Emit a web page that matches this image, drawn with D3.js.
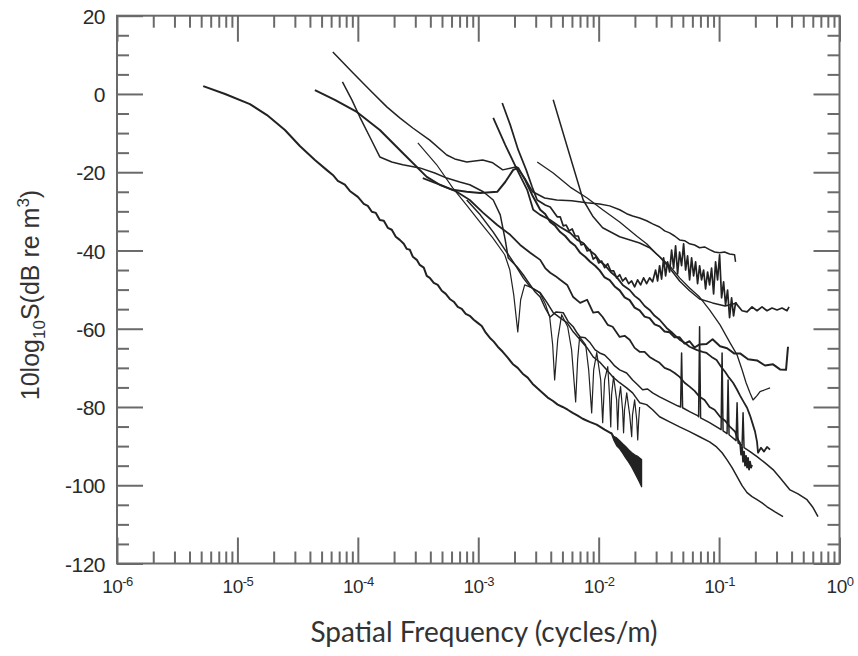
<!DOCTYPE html>
<html><head><meta charset="utf-8">
<script src="https://cdn.jsdelivr.net/npm/d3@7"></script>
<style>
html,body{margin:0;padding:0;background:#fff;}
svg{display:block;}
</style></head><body>
<svg id="chart" width="858" height="656"></svg>
<script>
// Axis ticks
const xMajor = [1e-6, 1e-5, 1e-4, 1e-3, 1e-2, 1e-1, 1];
const xExponent = ["-6", "-5", "-4", "-3", "-2", "-1", "0"];
const yMajor = [20, 0, -20, -40, -60, -80, -100, -120];

// Spectra: [spatial frequency (cycles/m), 10log10 S (dB re m^3)]
const profileA = [[5.2e-6,2.0],[7.9e-6,0.0],[1.27e-5,-2.6],[1.76e-5,-5.4],[2.48e-5,-9.2],[3.3e-5,-13.3],[4.4e-5,-16.9],[5.5e-5,-19.4],[6.2e-5,-20.7],[6.82e-5,-22.2],[7.8e-5,-23.2],[8.58e-5,-24.8],[1.0e-4,-26.3],[1.121e-4,-28.1],[1.21e-4,-28.6],[1.307e-4,-30.1],[1.411e-4,-30.4],[1.523e-4,-32.2],[1.643e-4,-32.4],[1.774e-4,-34.2],[1.914e-4,-34.7],[2.066e-4,-36.5],[2.23e-4,-37.3],[2.407e-4,-38.3],[2.549e-4,-39.6],[2.70e-4,-39.8],[2.86e-4,-41.6],[3.087e-4,-42.4],[3.269e-4,-43.7],[3.528e-4,-44.4],[3.736e-4,-46.5],[3.957e-4,-47.0],[4.272e-4,-48.3],[4.612e-4,-48.8],[4.977e-4,-50.3],[5.373e-4,-51.1],[5.80e-4,-52.4],[6.26e-4,-53.1],[6.76e-4,-54.4],[7.294e-4,-54.9],[7.873e-4,-56.2],[8.498e-4,-56.7],[9.173e-4,-57.7],[9.9e-4,-58.5],[1.069e-3,-59.3],[1.154e-3,-61.0],[1.246e-3,-62.3],[1.345e-3,-63.3],[1.452e-3,-64.6],[1.597e-3,-65.9],[1.757e-3,-67.4],[1.932e-3,-69.0],[2.126e-3,-70.0],[2.339e-3,-71.5],[2.574e-3,-72.5],[2.832e-3,-74.1],[3.117e-3,-75.3],[3.429e-3,-76.4],[3.773e-3,-77.6],[4.152e-3,-78.4],[4.568e-3,-79.4],[5.025e-3,-80.0],[5.53e-3,-80.7],[6.084e-3,-81.5],[6.694e-3,-82.2],[7.366e-3,-83.0],[8.417e-3,-83.8],[9.62e-3,-84.5],[1.121e-2,-85.8],[1.282e-2,-86.8]];
// rapidly oscillating tail of the same record: [frequency, upper, lower]
const profileAtail = [[1.282e-2,-86.6,-87.0],[1.332e-2,-87.5,-88.4],[1.411e-2,-87.9,-89.9],[1.494e-2,-88.6,-90.7],[1.582e-2,-89.4,-91.8],[1.675e-2,-90.1,-93.0],[1.774e-2,-90.9,-94.1],[1.878e-2,-91.6,-95.3],[1.989e-2,-92.2,-96.8],[2.106e-2,-92.6,-98.3],[2.188e-2,-93.0,-99.3],[2.273e-2,-93.4,-100.4]];

const profileB = [[3.15e-4,-12.5],[4.52e-4,-18.1],[6.14e-4,-24.0],[8.0e-4,-28.4],[1.03e-3,-32.7],[1.32e-3,-36.8],[1.66e-3,-41.1],[1.83e-3,-45.0],[1.97e-3,-51.3],[2.13e-3,-60.8],[2.25e-3,-52.6],[2.43e-3,-48.8],[2.78e-3,-49.5],[3.24e-3,-50.8],[3.63e-3,-53.9],[3.92e-3,-57.0],[4.15e-3,-64.1],[4.31e-3,-73.1],[4.57e-3,-62.8],[4.93e-3,-56.4],[5.53e-3,-59.5],[5.96e-3,-65.4],[6.44e-3,-78.7],[6.69e-3,-67.9],[6.95e-3,-62.1],[7.8e-3,-64.1],[8.26e-3,-70.5],[8.75e-3,-81.5],[9.09e-3,-70.5],[9.64e-3,-66.1],[1.04e-2,-73.1],[1.08e-2,-84.0],[1.12e-2,-73.1],[1.19e-2,-69.7],[1.23e-2,-76.9],[1.26e-2,-85.1],[1.28e-2,-76.9],[1.33e-2,-72.2],[1.41e-2,-78.2],[1.44e-2,-85.8],[1.47e-2,-78.2],[1.52e-2,-74.8],[1.58e-2,-80.7],[1.61e-2,-86.6],[1.64e-2,-80.7],[1.71e-2,-76.4],[1.81e-2,-82.0],[1.88e-2,-87.6],[1.91e-2,-82.0],[1.99e-2,-78.2],[2.07e-2,-83.3],[2.11e-2,-88.4],[2.15e-2,-83.3],[2.19e-2,-80.0]];

const profileC = [[6.2e-5,10.7],[9.09e-5,5.4],[1.258e-4,1.0],[1.74e-4,-3.3],[2.23e-4,-6.1],[2.86e-4,-8.7],[3.957e-4,-11.8],[5.476e-4,-15.6],[6.381e-4,-16.6],[8.025e-4,-17.4],[1.09e-3,-16.9],[1.32e-3,-17.6],[1.597e-3,-19.4],[2.086e-3,-18.6],[2.43e-3,-21.5],[2.832e-3,-25.0],[3.56e-3,-26.6],[4.48e-3,-27.1],[5.97e-3,-27.3],[7.95e-3,-27.8],[1.019e-2,-28.1],[1.234e-2,-28.6],[1.494e-2,-29.6],[1.707e-2,-30.6],[1.914e-2,-31.2],[2.188e-2,-31.7],[2.501e-2,-32.4],[2.805e-2,-33.2],[3.207e-2,-34.0],[3.528e-2,-35.0],[3.882e-2,-35.5],[4.272e-2,-36.3],[4.70e-2,-37.3],[5.171e-2,-37.5],[5.69e-2,-38.3],[6.26e-2,-38.6],[6.888e-2,-39.3],[7.578e-2,-39.1],[8.337e-2,-39.8],[9.173e-2,-40.4],[1.01e-1,-40.6],[1.11e-1,-40.4],[1.222e-1,-40.9],[1.345e-1,-41.1],[1.37e-1,-42.9]];

const profileD = [[4.40e-5,1.0],[6.44e-5,-1.5],[9.81e-5,-4.6],[1.523e-4,-9.2],[2.362e-4,-15.1],[3.736e-4,-21.2],[4.791e-4,-23.2],[6.144e-4,-24.5],[8.025e-4,-25.0],[1.039e-3,-25.3],[1.438e-3,-25.0],[1.675e-3,-22.5],[1.951e-3,-19.4],[2.147e-3,-18.9],[2.454e-3,-22.0],[2.805e-3,-25.8],[3.269e-3,-29.6],[3.596e-3,-30.7],[3.957e-3,-32.7],[4.354e-3,-33.7],[4.791e-3,-35.3],[5.271e-3,-36.3],[5.80e-3,-37.8],[6.381e-3,-38.8],[7.021e-3,-40.6],[7.724e-3,-41.6],[8.498e-3,-42.9],[9.35e-3,-43.9],[1.019e-2,-45.1],[1.121e-2,-46.9],[1.234e-2,-47.6],[1.358e-2,-49.2],[1.494e-2,-50.2],[1.643e-2,-52.0],[1.808e-2,-52.7],[1.989e-2,-54.6],[2.188e-2,-55.3],[2.407e-2,-56.9],[2.649e-2,-57.3],[2.915e-2,-58.9],[3.207e-2,-59.4],[3.528e-2,-60.7],[3.882e-2,-60.9],[4.272e-2,-62.2],[4.70e-2,-62.2],[5.171e-2,-63.8],[5.69e-2,-63.2],[6.26e-2,-64.8],[6.888e-2,-64.0],[7.873e-2,-63.9],[8.829e-2,-62.7],[1.019e-1,-64.5],[1.165e-1,-65.0],[1.332e-1,-66.3],[1.494e-1,-66.3],[1.74e-1,-67.8],[2.066e-1,-68.1],[2.407e-1,-69.4],[2.805e-1,-69.1],[3.207e-1,-70.4],[3.596e-1,-70.5],[3.736e-1,-64.6]];

const profileE = [[7.45e-5,3.1],[8.92e-5,-1.5],[1.039e-4,-5.9],[1.258e-4,-11.0],[1.523e-4,-16.1],[1.914e-4,-17.4],[2.362e-4,-18.1],[3.269e-4,-18.9],[4.354e-4,-20.2],[5.476e-4,-21.5],[7.021e-4,-22.5],[8.498e-4,-23.2],[1.10e-3,-25.0],[1.332e-3,-27.1],[1.523e-3,-30.9],[1.675e-3,-37.3],[1.774e-3,-41.9],[2.106e-3,-44.2],[2.362e-3,-46.2],[2.70e-3,-48.8],[2.971e-3,-50.6],[3.269e-3,-51.9],[3.596e-3,-54.7],[3.957e-3,-57.0],[4.438e-3,-55.7],[5.075e-3,-55.9],[5.584e-3,-58.2],[6.144e-3,-59.5],[6.629e-3,-61.1],[7.021e-3,-62.1],[7.724e-3,-62.3],[8.498e-3,-63.6],[9.35e-3,-65.4],[1.019e-2,-66.2],[1.121e-2,-66.7],[1.234e-2,-68.0],[1.358e-2,-69.5],[1.494e-2,-70.5],[1.707e-2,-71.3],[1.914e-2,-73.1],[2.106e-2,-74.3],[2.317e-2,-75.6],[2.549e-2,-75.4],[2.805e-2,-76.4],[3.207e-2,-77.4],[3.882e-2,-78.7],[4.524e-2,-79.7],[4.791e-2,-80.0],[4.883e-2,-66.2],[4.977e-2,-80.2],[5.69e-2,-81.2],[6.629e-2,-82.2],[6.76e-2,-82.5],[6.888e-2,-59.5],[7.021e-2,-82.8],[8.337e-2,-84.0],[1.039e-1,-85.8],[1.059e-1,-66.2],[1.079e-1,-86.1],[1.165e-1,-86.8],[1.188e-1,-73.1],[1.21e-1,-87.1],[1.384e-1,-88.6],[1.411e-1,-78.9],[1.438e-1,-89.2],[1.552e-1,-89.9],[1.582e-1,-81.5],[1.612e-1,-90.4],[1.808e-1,-91.4],[2.066e-1,-92.7],[2.407e-1,-94.3],[2.805e-1,-96.0],[3.207e-1,-98.1],[3.882e-1,-101.2],[4.524e-1,-102.2],[5.373e-1,-103.7],[6.025e-1,-105.7],[6.629e-1,-108.0]];

const profileF = [[1.582e-3,-2.3],[1.843e-3,-7.9],[2.147e-3,-14.3],[2.501e-3,-19.4],[2.805e-3,-23.8],[3.087e-3,-27.1],[3.596e-3,-28.4],[3.957e-3,-28.9],[4.524e-3,-31.4],[4.791e-3,-31.4],[5.075e-3,-33.7],[5.373e-3,-33.5],[5.69e-3,-35.0],[6.025e-3,-34.5],[6.381e-3,-36.3],[6.76e-3,-36.3],[7.156e-3,-38.6],[7.578e-3,-38.3],[8.025e-3,-40.1],[8.498e-3,-39.8],[9.005e-3,-42.2],[9.53e-3,-41.6],[1.0e-2,-43.2],[1.059e-2,-42.7],[1.121e-2,-44.4],[1.188e-2,-43.4],[1.258e-2,-45.2],[1.332e-2,-45.2],[1.411e-2,-47.0],[1.494e-2,-46.2],[1.582e-2,-47.8],[1.675e-2,-47.0],[1.774e-2,-48.5],[1.878e-2,-47.8],[1.989e-2,-49.3],[2.106e-2,-47.5],[2.23e-2,-48.8],[2.362e-2,-47.0],[2.501e-2,-48.5],[2.649e-2,-47.0],[2.805e-2,-48.0],[2.971e-2,-45.0],[3.087e-2,-47.8],[3.207e-2,-43.9],[3.332e-2,-47.3],[3.462e-2,-41.9],[3.596e-2,-46.5],[3.736e-2,-42.9],[3.882e-2,-45.5],[4.033e-2,-39.9],[4.192e-2,-44.5],[4.354e-2,-38.8],[4.524e-2,-46.0],[4.70e-2,-40.4],[4.883e-2,-43.9],[5.075e-2,-38.3],[5.271e-2,-45.0],[5.476e-2,-41.4],[5.69e-2,-47.5],[5.911e-2,-41.9],[6.144e-2,-46.5],[6.381e-2,-42.9],[6.629e-2,-48.5],[6.888e-2,-43.9],[7.156e-2,-47.5],[7.438e-2,-45.0],[7.724e-2,-49.8],[8.025e-2,-45.5],[8.337e-2,-48.8],[8.662e-2,-44.5],[9.005e-2,-51.1],[9.35e-2,-42.9],[9.714e-2,-47.5],[1.01e-1,-41.1],[1.049e-1,-52.1],[1.09e-1,-48.0],[1.132e-1,-53.9],[1.176e-1,-50.1],[1.222e-1,-57.2],[1.27e-1,-52.1],[1.319e-1,-56.7],[1.37e-1,-53.4],[1.552e-1,-55.4],[1.707e-1,-55.7],[1.878e-1,-54.4],[2.066e-1,-55.4],[2.273e-1,-54.4],[2.501e-1,-55.4],[2.752e-1,-54.7],[3.028e-1,-55.2],[3.332e-1,-54.7],[3.666e-1,-55.4],[3.81e-1,-54.4]];

const profileG = [[1.332e-3,-6.1],[1.675e-3,-13.0],[2.106e-3,-19.4],[2.549e-3,-24.5],[2.86e-3,-29.6],[3.269e-3,-30.9],[3.957e-3,-32.2],[4.791e-3,-34.0],[5.80e-3,-35.5],[6.629e-3,-37.3],[7.438e-3,-38.1],[8.498e-3,-40.1],[9.35e-3,-41.1],[1.019e-2,-42.7],[1.121e-2,-43.7],[1.258e-2,-45.5],[1.411e-2,-46.8],[1.582e-2,-48.8],[1.808e-2,-50.1],[1.989e-2,-51.6],[2.188e-2,-52.6],[2.407e-2,-54.2],[2.649e-2,-55.2],[2.915e-2,-56.7],[3.207e-2,-57.7],[3.666e-2,-59.8],[4.111e-2,-61.1],[4.70e-2,-62.8],[5.171e-2,-63.6],[5.69e-2,-64.6],[6.504e-2,-65.4],[7.294e-2,-65.9],[7.873e-2,-66.2],[8.662e-2,-67.2],[9.53e-2,-68.0],[1.039e-1,-69.7],[1.121e-1,-71.0],[1.21e-1,-72.5],[1.307e-1,-73.8],[1.411e-1,-75.6],[1.494e-1,-77.1],[1.612e-1,-78.9],[1.707e-1,-80.2],[1.808e-1,-82.2],[1.878e-1,-83.8],[1.989e-1,-86.3],[2.066e-1,-88.9],[2.106e-1,-91.7],[2.23e-1,-90.4],[2.362e-1,-91.4],[2.501e-1,-90.2],[2.649e-1,-90.9]];

const profileH = [[3.087e-3,-17.4],[4.192e-3,-20.2],[5.80e-3,-23.8],[8.025e-3,-26.6],[1.079e-2,-29.6],[1.494e-2,-32.7],[2.066e-2,-36.3],[2.501e-2,-38.3],[3.028e-2,-40.9],[3.882e-2,-43.9],[4.70e-2,-47.0],[5.69e-2,-49.6],[6.888e-2,-51.9],[8.337e-2,-55.2],[1.019e-1,-59.0],[1.234e-1,-63.6],[1.411e-1,-66.7],[1.552e-1,-70.5],[1.675e-1,-73.8],[1.808e-1,-76.4],[1.914e-1,-78.2],[2.066e-1,-77.1],[2.188e-1,-76.1],[2.407e-1,-75.6],[2.649e-1,-75.1]];

const profileI = [[4.192e-3,-1.5],[5.584e-3,-14.3],[7.438e-3,-27.1],[9.005e-3,-31.4],[1.079e-2,-34.2],[1.494e-2,-36.5],[2.188e-2,-38.1],[2.649e-2,-39.3],[3.207e-2,-41.6],[3.882e-2,-44.5],[4.70e-2,-47.8],[5.69e-2,-50.3],[6.888e-2,-52.4],[8.829e-2,-53.4],[1.121e-1,-54.2],[1.411e-1,-53.4]];

const profileJ = [[3.462e-4,-21.5],[4.791e-4,-23.2],[6.629e-4,-25.0],[8.498e-4,-27.1],[1.10e-3,-30.4],[1.438e-3,-33.5],[1.843e-3,-36.0],[2.23e-3,-38.6],[2.70e-3,-40.6],[3.269e-3,-42.4],[3.596e-3,-44.5],[3.957e-3,-45.7],[4.354e-3,-46.5],[4.791e-3,-47.5],[5.476e-3,-48.8],[6.144e-3,-51.9],[7.021e-3,-53.4],[8.025e-3,-52.6],[9.005e-3,-55.9],[9.909e-3,-55.7],[1.079e-2,-57.0],[1.188e-2,-59.0],[1.307e-2,-59.5],[1.494e-2,-62.1],[1.643e-2,-61.8],[1.808e-2,-62.8],[1.989e-2,-64.9],[2.188e-2,-65.9],[2.407e-2,-65.9],[2.649e-2,-67.2],[2.915e-2,-68.0],[3.207e-2,-68.7],[3.528e-2,-70.0],[3.882e-2,-70.5],[4.272e-2,-71.3],[4.70e-2,-72.3],[5.171e-2,-73.8],[5.69e-2,-74.8],[6.26e-2,-75.9],[6.888e-2,-77.4],[7.578e-2,-78.2],[8.337e-2,-80.0],[9.173e-2,-80.7],[1.019e-1,-82.5],[1.121e-1,-83.5],[1.234e-1,-85.1],[1.358e-1,-86.3],[1.438e-1,-88.4],[1.494e-1,-89.2],[1.523e-1,-92.2],[1.552e-1,-90.2],[1.582e-1,-94.0],[1.612e-1,-91.4],[1.643e-1,-95.0],[1.675e-1,-92.5],[1.707e-1,-95.5],[1.74e-1,-93.0],[1.774e-1,-96.0],[1.808e-1,-94.0],[1.843e-1,-95.5],[1.878e-1,-94.8]];

const profileK = [[8.025e-4,-27.1],[1.039e-3,-30.9],[1.332e-3,-35.3],[1.675e-3,-39.9],[2.027e-3,-43.7],[2.362e-3,-47.0],[2.70e-3,-49.3],[3.269e-3,-50.8],[3.736e-3,-53.4],[4.192e-3,-55.9],[4.791e-3,-57.2],[5.476e-3,-58.5],[6.144e-3,-60.8],[7.021e-3,-62.8],[8.025e-3,-64.9],[9.005e-3,-67.2],[1.019e-2,-68.5],[1.165e-2,-70.5],[1.307e-2,-72.3],[1.494e-2,-73.8],[1.707e-2,-75.1],[1.914e-2,-76.4],[2.188e-2,-78.9],[2.501e-2,-79.4],[2.805e-2,-80.7],[3.207e-2,-82.5],[3.882e-2,-83.8],[4.70e-2,-85.1],[5.69e-2,-86.3],[6.888e-2,-87.6],[8.337e-2,-88.9],[9.53e-2,-90.2],[1.059e-1,-91.7],[1.165e-1,-93.5],[1.282e-1,-95.5],[1.411e-1,-97.8],[1.552e-1,-100.1],[1.707e-1,-101.9],[1.878e-1,-102.9],[2.066e-1,-103.7],[2.273e-1,-104.5],[2.501e-1,-105.5],[2.915e-1,-106.8],[3.396e-1,-108.0]];

const series = [
  {data: profileA, width: 2.0},
  {data: profileB, width: 1.2},
  {data: profileC, width: 1.5},
  {data: profileD, width: 2.0},
  {data: profileE, width: 1.5},
  {data: profileF, width: 1.7},
  {data: profileG, width: 1.8},
  {data: profileH, width: 1.3},
  {data: profileI, width: 1.5},
  {data: profileJ, width: 1.8},
  {data: profileK, width: 1.5}
];

const box = {left: 117, right: 839.5, top: 15.7, bottom: 563.5};
const axisColor = "#6a6a6a";
const inkColor = "#222";
const tickFont = "'Liberation Sans', Arial, Helvetica, sans-serif";

const x = d3.scaleLog().domain([1e-6, 1]).range([box.left, box.right]);
const y = d3.scaleLinear().domain([-120, 20]).range([box.bottom, box.top]);

const svg = d3.select("#chart");

const xMinor = x.ticks().filter(v => !xMajor.some(t => Math.abs(Math.log10(v) - Math.log10(t)) < 1e-6));
const yMinor = d3.range(-120, 21, 5).filter(v => v % 20 !== 0);

function styleAxis(g) {
  g.select(".domain").remove();
  g.selectAll(".tick line").attr("stroke", axisColor).attr("stroke-width", 2);
}

// curves (drawn under the frame)
const line = d3.line().x(d => x(d[0])).y(d => y(d[1]));
const plot = svg.append("g");
series.forEach(s => {
  plot.append("path")
    .attr("d", line(s.data))
    .attr("fill", "none")
    .attr("stroke", inkColor)
    .attr("stroke-width", s.width)
    .attr("stroke-linejoin", "round");
});
// oscillating tail shown as the band it fills
const band = d3.area().x(d => x(d[0])).y0(d => y(d[2])).y1(d => y(d[1]));
plot.append("path")
  .attr("d", band(profileAtail))
  .attr("fill", inkColor).attr("stroke", inkColor).attr("stroke-width", 1.2)
  .attr("stroke-linejoin", "round");

// inward ticks on all four sides
const sides = [
  {axis: d3.axisBottom, t: `translate(0,${box.bottom})`, scale: x},
  {axis: d3.axisTop, t: `translate(0,${box.top})`, scale: x},
  {axis: d3.axisLeft, t: `translate(${box.left},0)`, scale: y},
  {axis: d3.axisRight, t: `translate(${box.right},0)`, scale: y}
];
sides.forEach(s => {
  const isX = s.scale === x;
  svg.append("g").attr("transform", s.t)
    .call(s.axis(s.scale).tickValues(isX ? xMinor : yMinor).tickSizeInner(-12).tickSizeOuter(0).tickFormat(() => ""))
    .call(styleAxis);
  svg.append("g").attr("transform", s.t)
    .call(s.axis(s.scale).tickValues(isX ? xMajor : yMajor).tickSizeInner(-26).tickSizeOuter(0).tickFormat(() => ""))
    .call(styleAxis);
});

// frame
svg.append("rect")
  .attr("x", box.left).attr("y", box.top)
  .attr("width", box.right - box.left).attr("height", box.bottom - box.top)
  .attr("fill", "none").attr("stroke", axisColor).attr("stroke-width", 2);

// y tick labels
const yLab = svg.append("g").attr("transform", `translate(${box.left},0)`)
  .call(d3.axisLeft(y).tickValues(yMajor).tickSize(0).tickPadding(12).tickFormat(d => String(d)));
yLab.select(".domain").remove();
yLab.selectAll("text")
  .attr("font-family", tickFont).attr("font-size", 21).attr("fill", "#2a2a2a")
  .attr("dy", "0.36em").attr("letter-spacing", "-0.5");

// x tick labels: 10 with superscript exponent
const xLab = svg.append("g").attr("transform", `translate(0,${box.bottom})`)
  .call(d3.axisBottom(x).tickValues(xMajor).tickSize(0).tickPadding(16).tickFormat(() => "10"));
xLab.select(".domain").remove();
xLab.selectAll("text")
  .attr("font-family", tickFont).attr("font-size", 19).attr("fill", "#2a2a2a")
  .attr("letter-spacing", "-0.5")
  .each(function(d, i) {
    d3.select(this).append("tspan").attr("dy", "-0.55em").attr("font-size", 13).text(xExponent[i]);
  });

// axis titles
svg.append("text")
  .attr("x", 484).attr("y", 642)
  .attr("text-anchor", "middle")
  .attr("font-family", "Lato, 'Open Sans', sans-serif").attr("font-size", 28).attr("fill", "#333")
  .text("Spatial Frequency (cycles/m)");

const yt = svg.append("text")
  .attr("transform", "translate(39,295) rotate(-90)")
  .attr("text-anchor", "middle")
  .attr("font-family", tickFont).attr("font-size", 25).attr("fill", "#333");
yt.append("tspan").text("10log");
yt.append("tspan").attr("font-size", 17).attr("dy", 6).text("10");
yt.append("tspan").attr("dy", -6).text("S(dB re m");
yt.append("tspan").attr("font-size", 17).attr("dy", -10).text("3");
yt.append("tspan").attr("dy", 10).text(")");
</script>
</body></html>
